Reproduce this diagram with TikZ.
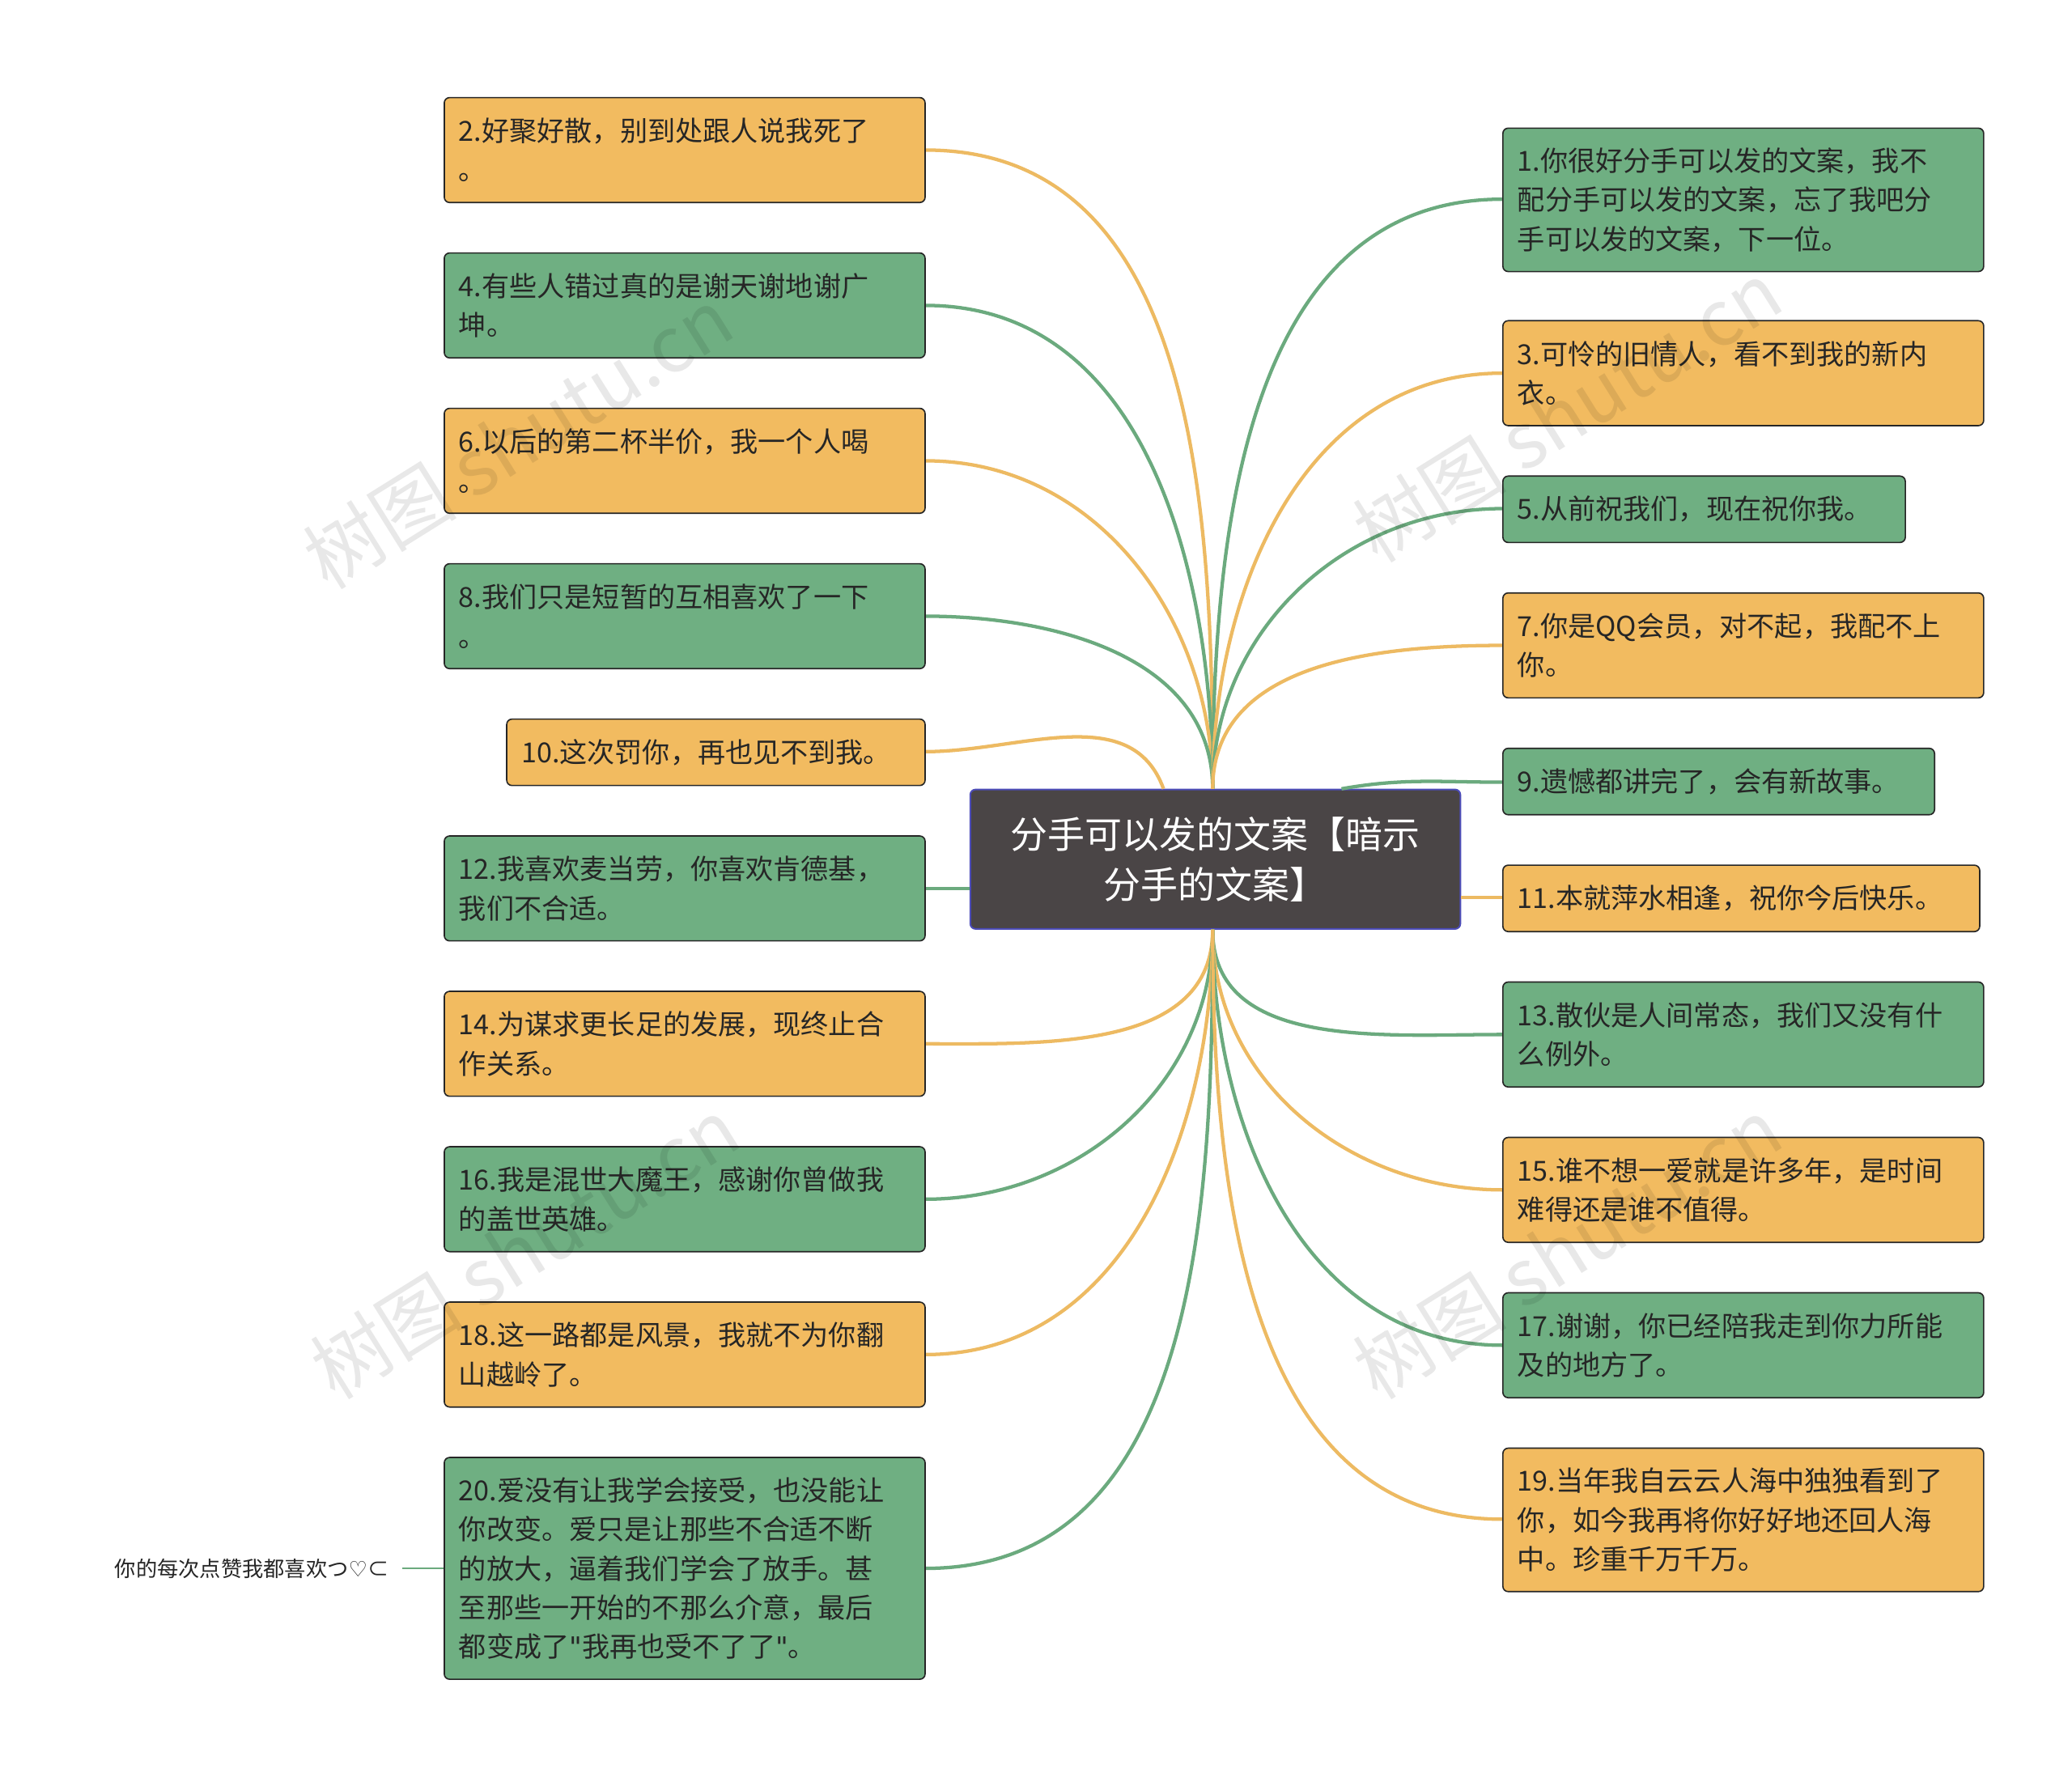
\documentclass[tikz,border=0pt]{standalone}
\usepackage{fontspec}
\setmainfont{Noto Sans CJK SC}
\newfontfamily\dvs{DejaVu Sans}
\usetikzlibrary{calc}
\definecolor{org}{HTML}{F2BB60}
\definecolor{grn}{HTML}{6FAF82}
\definecolor{lorg}{HTML}{EDBA62}
\definecolor{lgrn}{HTML}{6BAA7E}
\definecolor{ctr}{HTML}{4A4546}
\newcommand{\qq}{{\dvs\symbol{34}}}
\tikzset{
 box/.style={draw=black!85,line width=1pt,rounded corners=4pt,inner xsep=11pt,inner ysep=0pt,align=left,font=\fontsize{20.8}{29.5}\selectfont,text=black!85},
 ob/.style={box,fill=org},
 gb/.style={box,fill=grn},
 ol/.style={draw=lorg,line width=2.6pt},
 gl/.style={draw=lgrn,line width=2.6pt},
 wm/.style={text=black,opacity=0.09,font=\fontsize{58}{58}\selectfont,rotate=32}
}
\newcommand{\bx}[7]{% name style x1 y1 x2 y2 text
 \node[#2,minimum width=#5-#3-1,minimum height=#6-#4-1,text width=#5-#3-23] (#1) at ({(#3+#5)/2},{(#4+#6)/2}) {#7};}
\begin{document}
\begin{tikzpicture}[x=1pt,y=-1pt]
\fill[white] (0,0) rectangle (1560,1332);
\useasboundingbox (0,0) rectangle (1560,1332);
\node[draw=blue!60!black!70,line width=1.2pt,fill=ctr,rounded corners=4pt,minimum width=369,minimum height=105,text=white,align=center,font=\fontsize{28}{38}\selectfont] (c) at (915,647) {分手可以发的文案【暗示\\分手的文案】};
\coordinate (t) at (913,594);
\coordinate (b) at (913,700);
% connectors
\draw[ol] (t) to[out=90,in=0] (697,113);
\draw[gl] (t) to[out=90,in=0] (697,230);
\draw[ol] (t) to[out=90,in=0] (697,347);
\draw[gl] (t) to[out=90,in=0] (697,464);
\draw[ol] (876,594) to[out=110,in=0] (697,566);
\draw[gl] (730,669) -- (697,669);
\draw[ol] (b) to[out=-90,in=0] (697,786);
\draw[gl] (b) to[out=-90,in=0] (697,903);
\draw[ol] (b) to[out=-90,in=0] (697,1020);
\draw[gl] (b) to[out=-90,in=0] (697,1181);
\draw[gl] (t) to[out=90,in=180] (1131,150);
\draw[ol] (t) to[out=90,in=180] (1131,281);
\draw[gl] (t) to[out=90,in=180] (1131,383);
\draw[ol] (t) to[out=90,in=180] (1131,486);
\draw[gl] (1010,594) to[out=10,in=180] (1131,589);
\draw[ol] (1100,676) -- (1131,676);
\draw[gl] (b) to[out=-90,in=180] (1131,779);
\draw[ol] (b) to[out=-90,in=180] (1131,896);
\draw[gl] (b) to[out=-90,in=180] (1131,1013);
\draw[ol] (b) to[out=-90,in=180] (1131,1144);
% left
\bx{l2}{ob}{334}{73}{697}{153}{2.好聚好散，别到处跟人说我死了\\。}
\bx{l4}{gb}{334}{190}{697}{270}{4.有些人错过真的是谢天谢地谢广\\坤。}
\bx{l6}{ob}{334}{307}{697}{387}{6.以后的第二杯半价，我一个人喝\\。}
\bx{l8}{gb}{334}{424}{697}{504}{8.我们只是短暂的互相喜欢了一下\\。}
\bx{l10}{ob}{381}{541}{697}{592}{10.这次罚你，再也见不到我。}
\bx{l12}{gb}{334}{629}{697}{709}{12.我喜欢麦当劳，你喜欢肯德基，\\我们不合适。}
\bx{l14}{ob}{334}{746}{697}{826}{14.为谋求更长足的发展，现终止合\\作关系。}
\bx{l16}{gb}{334}{863}{697}{943}{16.我是混世大魔王，感谢你曾做我\\的盖世英雄。}
\bx{l18}{ob}{334}{980}{697}{1060}{18.这一路都是风景，我就不为你翻\\山越岭了。}
\bx{l20}{gb}{334}{1097}{697}{1265}{20.爱没有让我学会接受，也没能让\\你改变。爱只是让那些不合适不断\\的放大，逼着我们学会了放手。甚\\至那些一开始的不那么介意，最后\\都变成了\qq 我再也受不了了\qq 。}
% right
\bx{r1}{gb}{1131}{96}{1494}{205}{1.你很好分手可以发的文案，我不\\配分手可以发的文案，忘了我吧分\\手可以发的文案，下一位。}
\bx{r3}{ob}{1131}{241}{1494}{321}{3.可怜的旧情人，看不到我的新内\\衣。}
\bx{r5}{gb}{1131}{358}{1435}{409}{5.从前祝我们，现在祝你我。}
\bx{r7}{ob}{1131}{446}{1494}{526}{7.你是QQ会员，对不起，我配不上\\你。}
\bx{r9}{gb}{1131}{563}{1457}{614}{9.遗憾都讲完了，会有新故事。}
\bx{r11}{ob}{1131}{651}{1491}{702}{11.本就萍水相逢，祝你今后快乐。}
\bx{r13}{gb}{1131}{739}{1494}{819}{13.散伙是人间常态，我们又没有什\\么例外。}
\bx{r15}{ob}{1131}{856}{1494}{936}{15.谁不想一爱就是许多年，是时间\\难得还是谁不值得。}
\bx{r17}{gb}{1131}{973}{1494}{1053}{17.谢谢，你已经陪我走到你力所能\\及的地方了。}
\bx{r19}{ob}{1131}{1090}{1494}{1199}{19.当年我自云云人海中独独看到了\\你，如今我再将你好好地还回人海\\中。珍重千万千万。}
\node[font=\fontsize{16}{20}\selectfont,text=black!85,anchor=east,inner sep=0pt] (fn) at (293,1181) {你的每次点赞我都喜欢つ{\dvs ♡}⊂};
\draw[gl,line width=1.5pt] (303,1181) -- (l20.west);
% watermarks
\node[wm] at (390,330) {树图 shutu.cn};
\node[wm] at (1180,310) {树图 shutu.cn};
\node[wm] at (395,940) {树图 shutu.cn};
\node[wm] at (1180,940) {树图 shutu.cn};
\end{tikzpicture}
\end{document}
